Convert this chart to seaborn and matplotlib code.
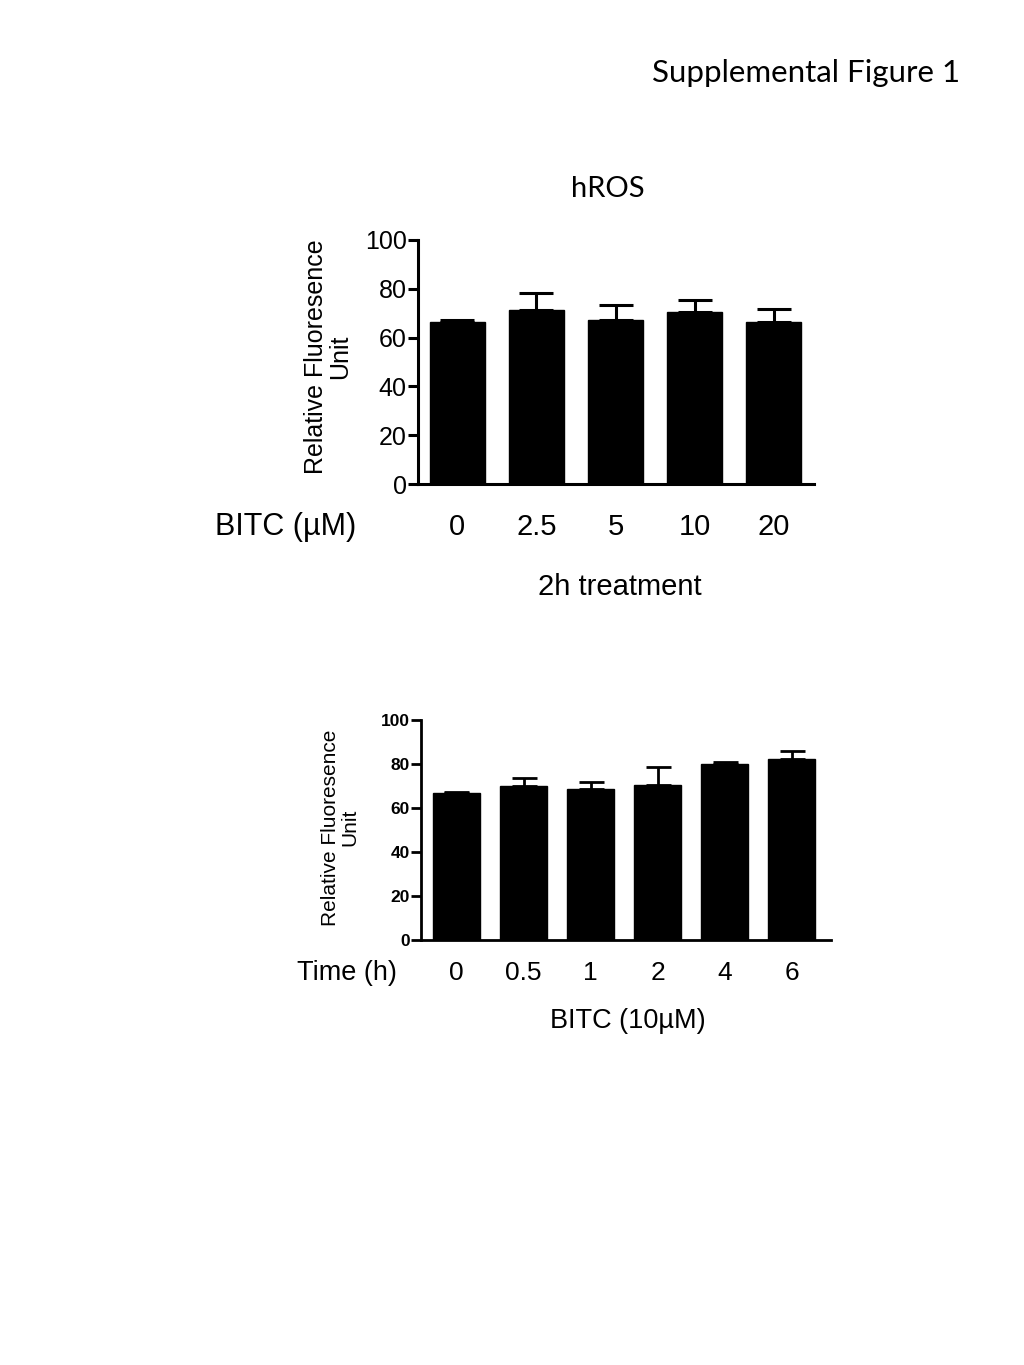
import numpy as np
import pandas as pd
import matplotlib
matplotlib.use("Agg")
import matplotlib.pyplot as plt
import seaborn as sns

# dose series, 2h treatment
dose_labels = ["0", "2.5", "5", "10", "20"]
dose_mean = [66.5, 71.3, 67.2, 70.5, 66.4]
dose_sem = [0.6, 7.0, 6.2, 4.9, 5.3]

# time series, BITC 10 uM
time_labels = ["0", "0.5", "1", "2", "4", "6"]
time_mean = [66.8, 70.1, 68.5, 70.5, 79.9, 82.1]
time_sem = [0.5, 3.4, 3.5, 8.0, 1.1, 3.9]

sns.set_style("ticks")
plt.rcParams['font.family'] = ['Liberation Sans', 'DejaVu Sans']
plt.rcParams['text.color'] = 'black'
plt.rcParams['axes.labelcolor'] = 'black'
plt.rcParams['xtick.color'] = 'black'
plt.rcParams['ytick.color'] = 'black'
plt.rcParams['axes.edgecolor'] = 'black'

fig = plt.figure(figsize=(10.24, 13.65), dpi=100)


def bar_panel(ax, labels, mean, sem, tick_fs, tick_weight, lw, capsize, ylab_fs, ylab_pos):
    df = pd.DataFrame({'x': labels, 'y': mean})
    sns.barplot(data=df, x='x', y='y', color='black', width=0.7,
                saturation=1, edgecolor='black', ax=ax)
    pos = np.arange(len(labels))
    ax.errorbar(pos, mean, yerr=[np.zeros(len(sem)), sem], fmt='none',
                ecolor='black', elinewidth=lw, capsize=capsize, capthick=lw)
    ax.set_ylim(0, 100)
    ax.set_yticks([0, 20, 40, 60, 80, 100])
    ax.tick_params(axis='y', width=lw, length=7, labelsize=tick_fs, pad=1)
    for t in ax.get_yticklabels():
        t.set_fontweight(tick_weight)
    ax.tick_params(axis='x', length=0, labelbottom=False)
    ax.set_xlabel('')
    ax.set_ylabel('Relative Fluoresence\nUnit', fontsize=ylab_fs, linespacing=1.0,
                  va='center')
    ax.yaxis.set_label_coords(*ylab_pos)
    for s in ['top', 'right']:
        ax.spines[s].set_visible(False)
    for s in ['left', 'bottom']:
        ax.spines[s].set_linewidth(lw)


# top panel
ax1 = fig.add_axes([0.408, 0.6454, 0.387, 0.1788])
bar_panel(ax1, dose_labels, dose_mean, dose_sem, 18, 'normal', 2.2, 12, 18, (-0.227, 0.52))
ax1.set_xlim(-0.5, 4.51)
for i, lab in enumerate(dose_labels):
    ax1.text(i, -17.5, lab, ha='center', va='center', fontsize=21,
             transform=ax1.transData)
fig.text(215 / 1024, 1 - 527 / 1365, 'BITC (µM)', ha='left', va='center', fontsize=22)
fig.text(620 / 1024, 1 - 587 / 1365, '2h treatment', ha='center', va='center', fontsize=21)
fig.text(608 / 1024, 1 - 189 / 1365, 'hROS', ha='center', va='center', fontsize=21,
         family=['Lato', 'DejaVu Sans'])

# bottom panel
ax2 = fig.add_axes([0.411, 0.3114, 0.401, 0.1612])
bar_panel(ax2, time_labels, time_mean, time_sem, 12.5, 'bold', 2.0, 9, 15, (-0.197, 0.51))
ax2.set_xlim(-0.53, 5.59)
for i, lab in enumerate(time_labels):
    ax2.text(i, -15, lab, ha='center', va='center', fontsize=19,
             transform=ax2.transData)
fig.text(347 / 1024, 1 - 973 / 1365, 'Time (h)', ha='center', va='center', fontsize=19.5)
fig.text(628 / 1024, 1 - 1021 / 1365, 'BITC (10µM)', ha='center', va='center', fontsize=19.5)

fig.text(960 / 1024, 1 - 73 / 1365, 'Supplemental Figure 1', ha='right', va='center',
         fontsize=22.5, family=['Lato', 'DejaVu Sans'])

fig.savefig('out.png', dpi=100)
